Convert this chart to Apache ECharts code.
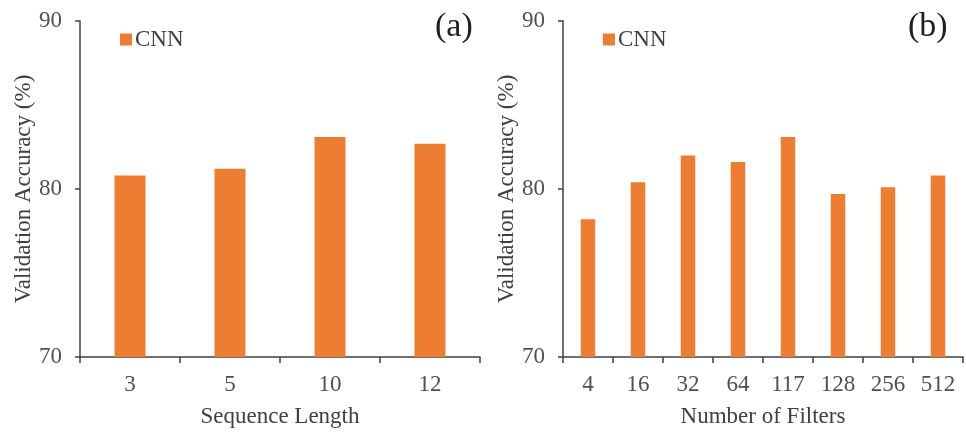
<!DOCTYPE html>
<html><head><meta charset="utf-8">
<script src="https://cdn.jsdelivr.net/npm/echarts@6/dist/echarts.min.js"></script>
<style>html,body{margin:0;padding:0;background:#fff}#c{width:966px;height:436px}</style>
</head><body><div id="c"></div>
<script>
const seqCategories = ['3', '5', '10', '12'];
const seqValues = [80.8, 81.2, 83.1, 82.7];
const filterCategories = ['4', '16', '32', '64', '117', '128', '256', '512'];
const filterValues = [78.2, 80.4, 82.0, 81.6, 83.1, 79.7, 80.1, 80.8];
const yTicks = { min: 70, max: 90, interval: 10 };

const FONT = '"Liberation Serif", "Times New Roman", serif';
const BAR = '#ED7D31';
const chart = echarts.init(document.getElementById('c'), null, { renderer: 'canvas' });

function xAxis(idx, cats, name) {
  return {
    type: 'category', gridIndex: idx, data: cats,
    name: name, nameLocation: 'middle', nameGap: 48,
    nameTextStyle: { fontFamily: FONT, fontSize: 23, color: '#404040' },
    axisLine: { lineStyle: { color: '#404040', width: 1.5 } },
    axisTick: { show: true, length: 6, lineStyle: { color: '#404040', width: 1.5 } },
    axisLabel: { fontFamily: FONT, fontSize: 23, color: '#505050', margin: 16 }
  };
}
function yAxis(idx) {
  return {
    type: 'value', gridIndex: idx, min: yTicks.min, max: yTicks.max, interval: yTicks.interval,
    name: 'Validation Accuracy (%)', nameLocation: 'middle', nameGap: 45,
    nameTextStyle: { fontFamily: FONT, fontSize: 23, color: '#404040' },
    axisLine: { show: true, lineStyle: { color: '#404040', width: 1.5 } },
    axisTick: { show: true, length: 5, lineStyle: { color: '#404040', width: 1.5 } },
    axisLabel: { fontFamily: FONT, fontSize: 23, color: '#505050', margin: 18 },
    splitLine: { show: false }
  };
}

chart.setOption({
  backgroundColor: '#fff',
  animation: false,
  grid: [
    { left: 80, top: 21, width: 400, height: 336 },
    { left: 563, top: 21, width: 400, height: 336 }
  ],
  legend: [
    { data: ['CNN'], left: 115, top: 23, icon: 'rect', itemWidth: 12, itemHeight: 12, itemGap: 4,
      textStyle: { fontFamily: FONT, fontSize: 23, color: '#404040', padding: [0,0,0,-2] } },
    { data: ['CNN'], left: 598, top: 23, icon: 'rect', itemWidth: 12, itemHeight: 12, itemGap: 4,
      textStyle: { fontFamily: FONT, fontSize: 23, color: '#404040', padding: [0,0,0,-2] } }
  ],
  graphic: [
    { type: 'text', left: 435, top: 10, style: { text: '(a)', font: '34px ' + FONT, fill: '#202020' } },
    { type: 'text', left: 908, top: 10, style: { text: '(b)', font: '34px ' + FONT, fill: '#202020' } }
  ],
  xAxis: [xAxis(0, seqCategories, 'Sequence Length'), xAxis(1, filterCategories, 'Number of Filters')],
  yAxis: [yAxis(0), yAxis(1)],
  series: [
    { name: 'CNN', type: 'bar', xAxisIndex: 0, yAxisIndex: 0, data: seqValues, barWidth: '31%',
      itemStyle: { color: BAR } },
    { name: 'CNN', type: 'bar', xAxisIndex: 1, yAxisIndex: 1, data: filterValues, barWidth: '29%',
      itemStyle: { color: BAR } }
  ]
});
</script>
</body></html>
